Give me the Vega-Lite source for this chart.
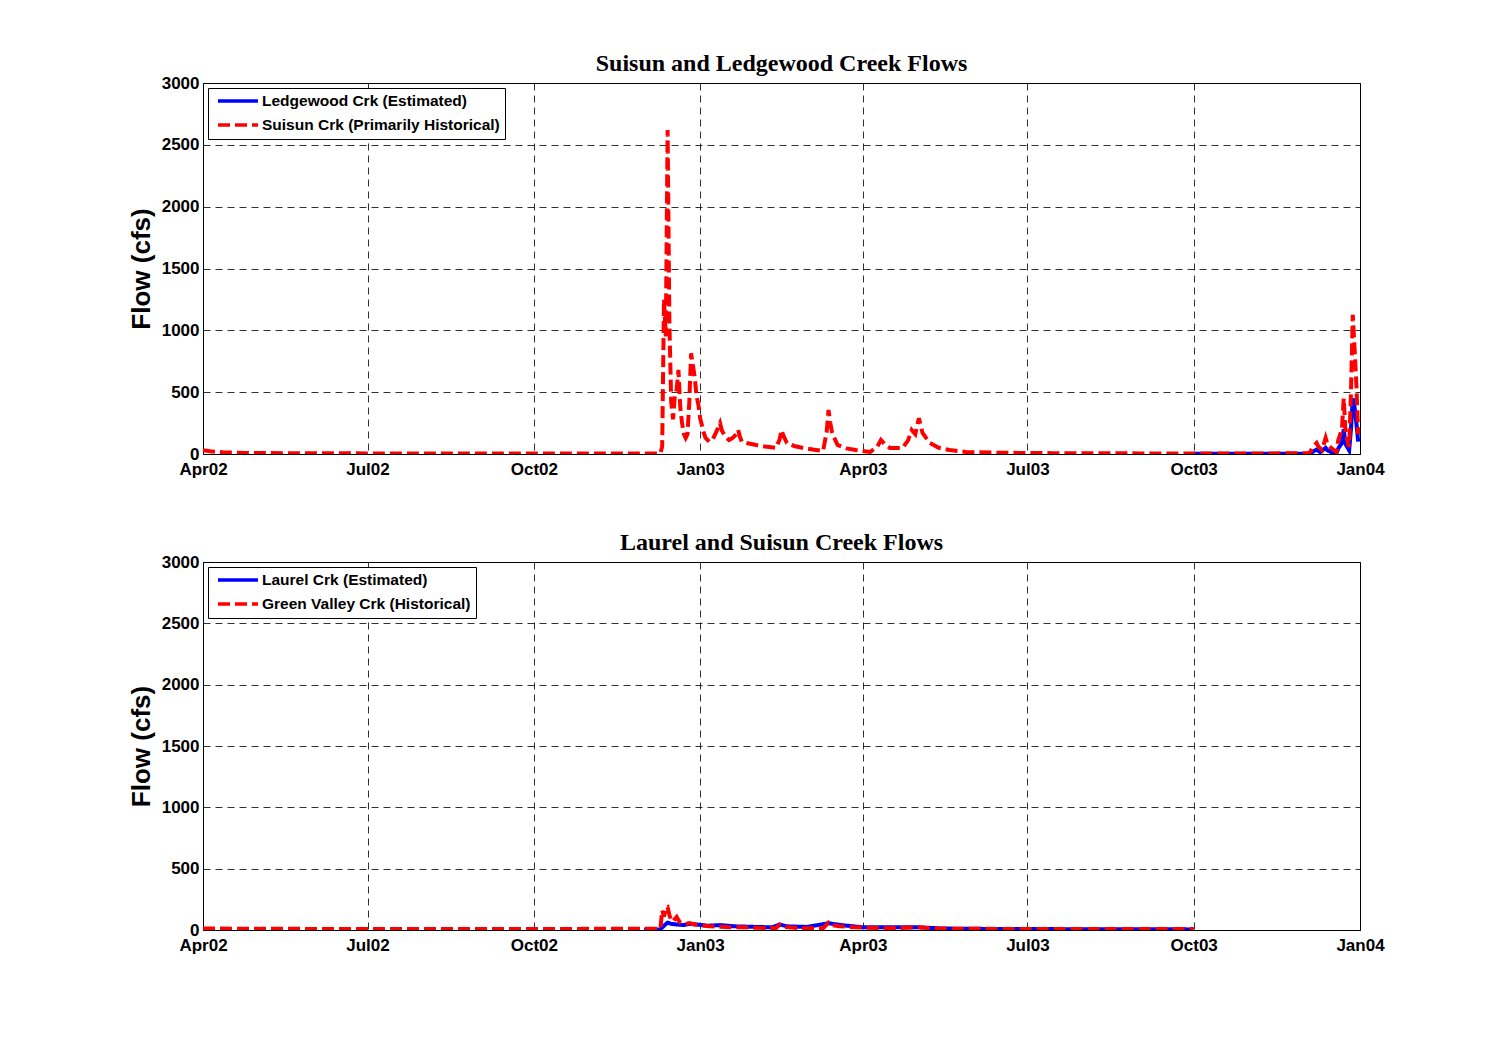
{
  "$schema": "https://vega.github.io/schema/vega-lite/v6.json",
  "padding": {"left": 127, "top": 51, "right": 10, "bottom": 10},
  "background": "white",
  "datasets": {
    "top": [
      {"date":"2003-10-01","flow":2,"s":"A"},{"date":"2003-11-15","flow":2,"s":"A"},{"date":"2003-12-05","flow":3,"s":"A"},{"date":"2003-12-06","flow":20,"s":"A"},{"date":"2003-12-08","flow":35,"s":"A"},{"date":"2003-12-10","flow":15,"s":"A"},{"date":"2003-12-13","flow":50,"s":"A"},{"date":"2003-12-14","flow":30,"s":"A"},{"date":"2003-12-16","flow":15,"s":"A"},{"date":"2003-12-19","flow":8,"s":"A"},{"date":"2003-12-20","flow":45,"s":"A"},{"date":"2003-12-22","flow":90,"s":"A"},{"date":"2003-12-23","flow":200,"s":"A"},{"date":"2003-12-24","flow":80,"s":"A"},{"date":"2003-12-26","flow":30,"s":"A"},{"date":"2003-12-27","flow":200,"s":"A"},{"date":"2003-12-28","flow":450,"s":"A"},{"date":"2003-12-29","flow":380,"s":"A"},{"date":"2003-12-30","flow":250,"s":"A"},{"date":"2003-12-31","flow":100,"s":"A"},
      {"date":"2002-04-01","flow":30,"s":"B"},{"date":"2002-04-05","flow":22,"s":"B"},{"date":"2002-04-12","flow":14,"s":"B"},{"date":"2002-04-25","flow":9,"s":"B"},{"date":"2002-05-20","flow":6,"s":"B"},{"date":"2002-07-01","flow":5,"s":"B"},{"date":"2002-09-01","flow":4,"s":"B"},{"date":"2002-11-01","flow":4,"s":"B"},{"date":"2002-12-10","flow":5,"s":"B"},{"date":"2002-12-11","flow":60,"s":"B"},{"date":"2002-12-12","flow":1250,"s":"B"},{"date":"2002-12-13","flow":950,"s":"B"},{"date":"2002-12-14","flow":2620,"s":"B"},{"date":"2002-12-15","flow":1050,"s":"B"},{"date":"2002-12-16","flow":420,"s":"B"},{"date":"2002-12-17","flow":280,"s":"B"},{"date":"2002-12-18","flow":470,"s":"B"},{"date":"2002-12-19","flow":520,"s":"B"},{"date":"2002-12-20","flow":680,"s":"B"},{"date":"2002-12-21","flow":380,"s":"B"},{"date":"2002-12-22","flow":250,"s":"B"},{"date":"2002-12-23","flow":160,"s":"B"},{"date":"2002-12-24","flow":130,"s":"B"},{"date":"2002-12-25","flow":160,"s":"B"},{"date":"2002-12-26","flow":420,"s":"B"},{"date":"2002-12-27","flow":815,"s":"B"},{"date":"2002-12-28","flow":720,"s":"B"},{"date":"2002-12-29","flow":620,"s":"B"},{"date":"2002-12-30","flow":470,"s":"B"},{"date":"2002-12-31","flow":400,"s":"B"},{"date":"2003-01-01","flow":290,"s":"B"},{"date":"2003-01-02","flow":230,"s":"B"},{"date":"2003-01-03","flow":170,"s":"B"},{"date":"2003-01-04","flow":130,"s":"B"},{"date":"2003-01-06","flow":100,"s":"B"},{"date":"2003-01-08","flow":120,"s":"B"},{"date":"2003-01-10","flow":180,"s":"B"},{"date":"2003-01-12","flow":250,"s":"B"},{"date":"2003-01-13","flow":190,"s":"B"},{"date":"2003-01-15","flow":140,"s":"B"},{"date":"2003-01-17","flow":113,"s":"B"},{"date":"2003-01-19","flow":130,"s":"B"},{"date":"2003-01-21","flow":160,"s":"B"},{"date":"2003-01-22","flow":195,"s":"B"},{"date":"2003-01-23","flow":140,"s":"B"},{"date":"2003-01-24","flow":100,"s":"B"},{"date":"2003-01-28","flow":85,"s":"B"},{"date":"2003-02-01","flow":73,"s":"B"},{"date":"2003-02-06","flow":60,"s":"B"},{"date":"2003-02-12","flow":49,"s":"B"},{"date":"2003-02-14","flow":120,"s":"B"},{"date":"2003-02-15","flow":194,"s":"B"},{"date":"2003-02-16","flow":150,"s":"B"},{"date":"2003-02-18","flow":89,"s":"B"},{"date":"2003-02-22","flow":65,"s":"B"},{"date":"2003-02-27","flow":49,"s":"B"},{"date":"2003-03-05","flow":35,"s":"B"},{"date":"2003-03-10","flow":24,"s":"B"},{"date":"2003-03-12","flow":180,"s":"B"},{"date":"2003-03-13","flow":356,"s":"B"},{"date":"2003-03-14","flow":250,"s":"B"},{"date":"2003-03-15","flow":170,"s":"B"},{"date":"2003-03-18","flow":73,"s":"B"},{"date":"2003-03-23","flow":45,"s":"B"},{"date":"2003-03-28","flow":32,"s":"B"},{"date":"2003-04-05","flow":16,"s":"B"},{"date":"2003-04-09","flow":60,"s":"B"},{"date":"2003-04-11","flow":113,"s":"B"},{"date":"2003-04-13","flow":80,"s":"B"},{"date":"2003-04-16","flow":49,"s":"B"},{"date":"2003-04-23","flow":49,"s":"B"},{"date":"2003-04-26","flow":110,"s":"B"},{"date":"2003-04-28","flow":194,"s":"B"},{"date":"2003-04-30","flow":160,"s":"B"},{"date":"2003-05-02","flow":290,"s":"B"},{"date":"2003-05-04","flow":170,"s":"B"},{"date":"2003-05-08","flow":89,"s":"B"},{"date":"2003-05-13","flow":50,"s":"B"},{"date":"2003-05-19","flow":32,"s":"B"},{"date":"2003-05-28","flow":16,"s":"B"},{"date":"2003-06-15","flow":10,"s":"B"},{"date":"2003-07-15","flow":7,"s":"B"},{"date":"2003-09-01","flow":5,"s":"B"},{"date":"2003-10-01","flow":5,"s":"B"},{"date":"2003-11-15","flow":5,"s":"B"},{"date":"2003-12-04","flow":6,"s":"B"},{"date":"2003-12-06","flow":57,"s":"B"},{"date":"2003-12-08","flow":89,"s":"B"},{"date":"2003-12-09","flow":60,"s":"B"},{"date":"2003-12-11","flow":32,"s":"B"},{"date":"2003-12-13","flow":130,"s":"B"},{"date":"2003-12-14","flow":80,"s":"B"},{"date":"2003-12-16","flow":49,"s":"B"},{"date":"2003-12-19","flow":16,"s":"B"},{"date":"2003-12-20","flow":113,"s":"B"},{"date":"2003-12-22","flow":200,"s":"B"},{"date":"2003-12-23","flow":450,"s":"B"},{"date":"2003-12-24","flow":170,"s":"B"},{"date":"2003-12-26","flow":57,"s":"B"},{"date":"2003-12-27","flow":490,"s":"B"},{"date":"2003-12-28","flow":1125,"s":"B"},{"date":"2003-12-29","flow":850,"s":"B"},{"date":"2003-12-30","flow":560,"s":"B"},{"date":"2003-12-31","flow":160,"s":"B"}
    ],
    "bottom": [
      {"date":"2002-12-01","flow":5,"s":"A"},{"date":"2002-12-10","flow":5,"s":"A"},{"date":"2002-12-12","flow":35,"s":"A"},{"date":"2002-12-14","flow":60,"s":"A"},{"date":"2002-12-16","flow":50,"s":"A"},{"date":"2002-12-19","flow":45,"s":"A"},{"date":"2002-12-23","flow":40,"s":"A"},{"date":"2002-12-26","flow":50,"s":"A"},{"date":"2002-12-30","flow":45,"s":"A"},{"date":"2003-01-05","flow":35,"s":"A"},{"date":"2003-01-12","flow":40,"s":"A"},{"date":"2003-01-20","flow":30,"s":"A"},{"date":"2003-02-01","flow":25,"s":"A"},{"date":"2003-02-10","flow":22,"s":"A"},{"date":"2003-02-14","flow":45,"s":"A"},{"date":"2003-02-18","flow":30,"s":"A"},{"date":"2003-03-01","flow":25,"s":"A"},{"date":"2003-03-13","flow":55,"s":"A"},{"date":"2003-03-20","flow":40,"s":"A"},{"date":"2003-04-01","flow":22,"s":"A"},{"date":"2003-05-02","flow":22,"s":"A"},{"date":"2003-05-15","flow":12,"s":"A"},{"date":"2003-06-15","flow":8,"s":"A"},{"date":"2003-10-01","flow":5,"s":"A"},
      {"date":"2002-04-01","flow":12,"s":"B"},{"date":"2002-05-01","flow":10,"s":"B"},{"date":"2002-07-01","flow":8,"s":"B"},{"date":"2002-09-01","flow":8,"s":"B"},{"date":"2002-12-10","flow":10,"s":"B"},{"date":"2002-12-11","flow":160,"s":"B"},{"date":"2002-12-12","flow":110,"s":"B"},{"date":"2002-12-13","flow":180,"s":"B"},{"date":"2002-12-14","flow":187,"s":"B"},{"date":"2002-12-15","flow":120,"s":"B"},{"date":"2002-12-16","flow":80,"s":"B"},{"date":"2002-12-17","flow":70,"s":"B"},{"date":"2002-12-18","flow":90,"s":"B"},{"date":"2002-12-19","flow":106,"s":"B"},{"date":"2002-12-20","flow":80,"s":"B"},{"date":"2002-12-21","flow":60,"s":"B"},{"date":"2002-12-22","flow":57,"s":"B"},{"date":"2002-12-24","flow":50,"s":"B"},{"date":"2002-12-26","flow":57,"s":"B"},{"date":"2002-12-29","flow":45,"s":"B"},{"date":"2003-01-01","flow":40,"s":"B"},{"date":"2003-01-06","flow":30,"s":"B"},{"date":"2003-01-12","flow":26,"s":"B"},{"date":"2003-01-18","flow":22,"s":"B"},{"date":"2003-01-23","flow":24,"s":"B"},{"date":"2003-02-01","flow":18,"s":"B"},{"date":"2003-02-12","flow":15,"s":"B"},{"date":"2003-02-14","flow":45,"s":"B"},{"date":"2003-02-16","flow":25,"s":"B"},{"date":"2003-02-25","flow":15,"s":"B"},{"date":"2003-03-10","flow":14,"s":"B"},{"date":"2003-03-13","flow":60,"s":"B"},{"date":"2003-03-15","flow":40,"s":"B"},{"date":"2003-03-19","flow":30,"s":"B"},{"date":"2003-03-31","flow":20,"s":"B"},{"date":"2003-04-15","flow":14,"s":"B"},{"date":"2003-05-02","flow":22,"s":"B"},{"date":"2003-05-10","flow":12,"s":"B"},{"date":"2003-06-15","flow":9,"s":"B"},{"date":"2003-08-01","flow":8,"s":"B"},{"date":"2003-10-01","flow":8,"s":"B"}
    ]
  },
  "spacing": 52,
  "resolve": {"scale": {"color": "independent", "strokeDash": "independent"}, "legend": {"color": "independent", "strokeDash": "independent"}},
  "vconcat": [
    {
      "title": "Suisun and Ledgewood Creek Flows",
      "width": 1157, "height": 371,
      "data": {"name": "top"},
      "mark": {"type": "line", "strokeWidth": 4, "clip": true},
      "encoding": {
        "x": {"field": "date", "type": "temporal",
          "scale": {"type": "utc", "nice": false, "domain": [{"year": 2002, "month": 4, "date": 1, "utc": true}, {"year": 2004, "month": 1, "date": 1, "utc": true}]},
          "axis": {"title": null, "values": [{"year":2002,"month":4,"date":1,"utc":true},{"year":2002,"month":7,"date":1,"utc":true},{"year":2002,"month":10,"date":1,"utc":true},{"year":2003,"month":1,"date":1,"utc":true},{"year":2003,"month":4,"date":1,"utc":true},{"year":2003,"month":7,"date":1,"utc":true},{"year":2003,"month":10,"date":1,"utc":true},{"year":2004,"month":1,"date":1,"utc":true}], "labelExpr": "utcFormat(datum.value, '%b%y')"}},
        "y": {"field": "flow", "type": "quantitative", "scale": {"domain": [0, 3000], "nice": false}, "axis": {"title": "Flow (cfs)", "format": "d", "values": [0, 500, 1000, 1500, 2000, 2500, 3000]}},
        "color": {"field": "s", "type": "nominal", "scale": {"domain": ["A", "B"], "range": ["#0000ff", "#ff0000"]},
          "legend": {"title": null, "labelExpr": "datum.label == 'A' ? 'Ledgewood Crk (Estimated)' : 'Suisun Crk (Primarily Historical)'"}},
        "strokeDash": {"field": "s", "type": "nominal", "scale": {"domain": ["A", "B"], "range": [[1, 0], [12, 5]]},
          "legend": {"title": null, "labelExpr": "datum.label == 'A' ? 'Ledgewood Crk (Estimated)' : 'Suisun Crk (Primarily Historical)'"}}
      }
    },
    {
      "title": "Laurel and Suisun Creek Flows",
      "width": 1157, "height": 368,
      "data": {"name": "bottom"},
      "mark": {"type": "line", "strokeWidth": 4, "clip": true},
      "encoding": {
        "x": {"field": "date", "type": "temporal",
          "scale": {"type": "utc", "nice": false, "domain": [{"year": 2002, "month": 4, "date": 1, "utc": true}, {"year": 2004, "month": 1, "date": 1, "utc": true}]},
          "axis": {"title": null, "values": [{"year":2002,"month":4,"date":1,"utc":true},{"year":2002,"month":7,"date":1,"utc":true},{"year":2002,"month":10,"date":1,"utc":true},{"year":2003,"month":1,"date":1,"utc":true},{"year":2003,"month":4,"date":1,"utc":true},{"year":2003,"month":7,"date":1,"utc":true},{"year":2003,"month":10,"date":1,"utc":true},{"year":2004,"month":1,"date":1,"utc":true}], "labelExpr": "utcFormat(datum.value, '%b%y')"}},
        "y": {"field": "flow", "type": "quantitative", "scale": {"domain": [0, 3000], "nice": false}, "axis": {"title": "Flow (cfs)", "format": "d", "values": [0, 500, 1000, 1500, 2000, 2500, 3000]}},
        "color": {"field": "s", "type": "nominal", "scale": {"domain": ["A", "B"], "range": ["#0000ff", "#ff0000"]},
          "legend": {"title": null, "labelExpr": "datum.label == 'A' ? 'Laurel Crk (Estimated)' : 'Green Valley Crk (Historical)'"}},
        "strokeDash": {"field": "s", "type": "nominal", "scale": {"domain": ["A", "B"], "range": [[1, 0], [12, 5]]},
          "legend": {"title": null, "labelExpr": "datum.label == 'A' ? 'Laurel Crk (Estimated)' : 'Green Valley Crk (Historical)'"}}
      }
    }
  ],
  "config": {
    "view": {"stroke": "black", "strokeWidth": 1},
    "title": {"font": "Liberation Serif", "fontSize": 24, "fontWeight": "bold", "color": "black", "anchor": "middle", "offset": -2},
    "axis": {
      "labelFont": "Liberation Sans", "labelFontSize": 17, "labelFontWeight": "bold", "labelColor": "black",
      "titleFont": "Liberation Sans", "titleFontSize": 26, "titleFontWeight": "bold", "titleColor": "black",
      "domainColor": "black", "domainWidth": 1,
      "grid": true, "gridColor": "black", "gridDash": [7, 5], "gridWidth": 0.9, "gridOpacity": 0.9,
      "ticks": false, "labelPadding": 4, "labelFlush": false, "labelOverlap": false, "labelBound": false
    },
    "axisX": {"labelPadding": 7},
    "axisY": {"titlePadding": 7},
    "legend": {
      "orient": "top-left", "offset": 5, "strokeColor": "black", "fillColor": "white", "padding": 5,
      "symbolType": "stroke", "symbolSize": 1600, "symbolStrokeWidth": 3.5, "symbolOffset": 3,
      "labelFont": "Liberation Sans", "labelFontSize": 15.5, "labelFontWeight": "bold", "labelColor": "black",
      "labelOffset": 2, "rowPadding": 7, "clipHeight": 16, "labelLimit": 400
    }
  }
}
